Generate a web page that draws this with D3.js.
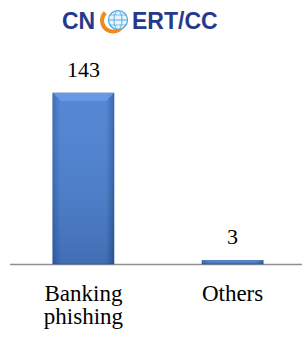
<!DOCTYPE html>
<html>
<head>
<meta charset="utf-8">
<script src="https://cdn.jsdelivr.net/npm/d3@7"></script>
<style>
  body { margin: 0; background: #fff; }
</style>
</head>
<body>
<div id="chart"></div>
<script>
// data
var categories = ["Banking phishing", "Others"];
var values = [143, 3];

var width = 302, height = 343;
var baseY = 264, topY = 93;

var svg = d3.select("#chart").append("svg")
    .attr("width", width)
    .attr("height", height);

var defs = svg.append("defs");
var grad = defs.append("linearGradient").attr("id", "barGrad")
    .attr("x1", 0).attr("x2", 1).attr("y1", 0).attr("y2", 0);
grad.append("stop").attr("offset", "0%").attr("stop-color", "#3567b8");
grad.append("stop").attr("offset", "13%").attr("stop-color", "#4a80d2");
grad.append("stop").attr("offset", "87%").attr("stop-color", "#4a80d2");
grad.append("stop").attr("offset", "100%").attr("stop-color", "#2f5fa8");

var vgrad = defs.append("linearGradient").attr("id", "barShade")
    .attr("x1", 0).attr("x2", 0).attr("y1", 0).attr("y2", 1);
vgrad.append("stop").attr("offset", "0%").attr("stop-color", "#ffffff").attr("stop-opacity", 0.06);
vgrad.append("stop").attr("offset", "100%").attr("stop-color", "#000000").attr("stop-opacity", 0.14);

// logo
var logo = svg.append("g");
logo.append("text").attr("x", 62).attr("y", 29)
    .attr("font-family", "Liberation Sans, Arial, sans-serif")
    .attr("font-weight", "bold").attr("font-size", 23)
    .attr("fill", "#27398a").text("CN");
// orange crescent
logo.append("path")
    .attr("d", d3.arc()({innerRadius: 9, outerRadius: 13, startAngle: 0.35 * Math.PI, endAngle: 1.75 * Math.PI}))
    .attr("transform", "translate(113,20.5)")
    .attr("fill", "#f08a1c");
logo.append("circle").attr("cx", 118).attr("cy", 20).attr("r", 9.5)
    .attr("fill", "#e8f4fc").attr("stroke", "#4aa6e0").attr("stroke-width", 1.2);
logo.append("ellipse").attr("cx", 118).attr("cy", 20).attr("rx", 4).attr("ry", 9.5)
    .attr("fill", "none").attr("stroke", "#4aa6e0").attr("stroke-width", 0.9);
logo.append("line").attr("x1", 108.5).attr("x2", 127.5).attr("y1", 20).attr("y2", 20)
    .attr("stroke", "#4aa6e0").attr("stroke-width", 0.9);
logo.append("line").attr("x1", 110).attr("x2", 126).attr("y1", 15).attr("y2", 15)
    .attr("stroke", "#4aa6e0").attr("stroke-width", 0.7);
logo.append("line").attr("x1", 110).attr("x2", 126).attr("y1", 25).attr("y2", 25)
    .attr("stroke", "#4aa6e0").attr("stroke-width", 0.7);
logo.append("text").attr("x", 132).attr("y", 29)
    .attr("font-family", "Liberation Sans, Arial, sans-serif")
    .attr("font-weight", "bold").attr("font-size", 23)
    .attr("fill", "#27398a").text("ERT/CC");

// scales
var x = d3.scaleBand().domain(categories).range([23, 293]).paddingInner(0.59).paddingOuter(0.2);
var y = d3.scaleLinear().domain([0, d3.max(values)]).range([baseY, topY]);

// axis line
svg.append("line").attr("x1", 10).attr("x2", width).attr("y1", baseY + 0.5).attr("y2", baseY + 0.5)
    .attr("stroke", "#8f8f8f").attr("stroke-width", 1.6);

var bars = svg.selectAll(".bar").data(values).enter().append("g").attr("class", "bar");

bars.append("rect")
    .attr("x", function(d, i) { return x(categories[i]); })
    .attr("y", function(d) { return y(d); })
    .attr("width", x.bandwidth())
    .attr("height", function(d) { return baseY - y(d); })
    .attr("fill", "url(#barGrad)")
    .attr("stroke", "#2d5aa0").attr("stroke-width", 0.6);

bars.append("rect")
    .attr("x", function(d, i) { return x(categories[i]); })
    .attr("y", function(d) { return y(d); })
    .attr("width", x.bandwidth())
    .attr("height", function(d) { return baseY - y(d); })
    .attr("fill", "url(#barShade)");

// bevel on top
bars.filter(function(d) { return baseY - y(d) > 20; }).append("path")
    .attr("d", function(d, i) {
      var x0 = x(categories[i]), x1 = x0 + x.bandwidth(), t = y(d), b = 8;
      return "M" + x0 + "," + t + "L" + x1 + "," + t + "L" + (x1 - b) + "," + (t + b) + "L" + (x0 + b) + "," + (t + b) + "Z";
    })
    .attr("fill", "#6a9de6").attr("opacity", 0.85);

// value labels
svg.selectAll(".val").data(values).enter().append("text")
    .attr("x", function(d, i) { return x(categories[i]) + x.bandwidth() / 2; })
    .attr("y", function(d) { return y(d) - 16; })
    .attr("text-anchor", "middle")
    .attr("font-family", "Liberation Serif, Times New Roman, serif")
    .attr("font-size", 22)
    .attr("fill", "#000")
    .text(function(d) { return d; });

// category labels
var cats = svg.selectAll(".cat").data(categories).enter().append("text")
    .attr("x", function(d) { return x(d) + x.bandwidth() / 2; })
    .attr("y", 301)
    .attr("text-anchor", "middle")
    .attr("font-family", "Liberation Serif, Times New Roman, serif")
    .attr("font-size", 23)
    .attr("fill", "#000");
cats.each(function(d) {
  var words = d.split(" ");
  var t = d3.select(this);
  words.forEach(function(w, k) {
    t.append("tspan").attr("x", t.attr("x")).attr("dy", k === 0 ? 0 : 23).text(w);
  });
});
</script>
</body>
</html>
